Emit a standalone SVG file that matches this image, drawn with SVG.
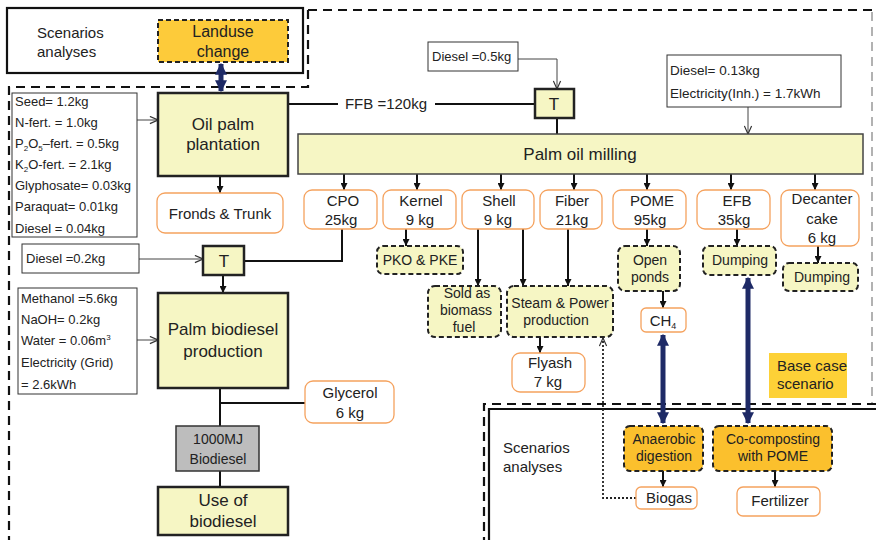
<svg xmlns="http://www.w3.org/2000/svg" width="876" height="540" viewBox="0 0 876 540">
<defs>
<style>
text{font-family:"Liberation Sans",Arial,Helvetica,sans-serif;fill:#222}
.c{text-anchor:middle}
.s12{font-size:13px}
.s14{font-size:14px}
.s15{font-size:15px}
.s16{font-size:16px}
.s17{font-size:17px}
.main{fill:#F6F6C4;stroke:#222;stroke-width:2.5}
.mill{fill:#F6F6C4;stroke:#444;stroke-width:1.5}
.prod{fill:#fff;stroke:#F5A25E;stroke-width:1.3}
.dash{fill:#F6F6C4;stroke:#222;stroke-width:2;stroke-dasharray:5 3}
.gold{fill:#FBC02D;stroke:#222;stroke-width:2;stroke-dasharray:5 3}
.inp{fill:#fff;stroke:#333;stroke-width:1}
.ln{fill:none;stroke:#111;stroke-width:2}
.thin{fill:none;stroke:#444;stroke-width:1}
.bound{fill:none;stroke:#111;stroke-width:2.2;stroke-dasharray:9 6}
.navy{stroke:#1E2A66;stroke-width:5;fill:none}
</style>
<marker id="tri" viewBox="0 0 10 10" refX="10" refY="5" markerWidth="7" markerHeight="7" orient="auto-start-reverse" markerUnits="userSpaceOnUse"><path d="M0,0 L10,5 L0,10 z" fill="#111"/></marker>
<marker id="open" viewBox="0 0 10 10" refX="10" refY="5" markerWidth="9" markerHeight="9" orient="auto-start-reverse" markerUnits="userSpaceOnUse"><path d="M1,1 L10,5 L1,9" fill="none" stroke="#333" stroke-width="1.3"/></marker>
<marker id="nv" viewBox="0 0 10 10" refX="9" refY="5" markerWidth="12" markerHeight="12" orient="auto-start-reverse" markerUnits="userSpaceOnUse"><path d="M0,0 L10,5 L0,10 z" fill="#1E2A66"/></marker>
</defs>
<rect width="876" height="540" fill="#fff"/>

<!-- boundaries -->
<g id="boundaries">
<path class="bound" d="M308,10 L876,10"/>
<path class="bound" d="M308,10 L308,87 L9,87 L9,540"/>
<path d="M872,12 L872,403" fill="none" stroke="#999" stroke-width="1.5" stroke-dasharray="9 6"/>
<path class="bound" d="M876,404 L484,404 L484,540"/>
<rect x="7" y="8" width="296" height="65" fill="none" stroke="#111" stroke-width="2.2"/>
<path d="M489,540 L489,409 L876,409" fill="none" stroke="#111" stroke-width="2.2"/>
<text class="s15" x="37" y="38">Scenarios</text>
<text class="s15" x="37" y="57">analyses</text>
<text class="s15" x="503" y="453">Scenarios</text>
<text class="s15" x="503" y="472">analyses</text>
</g>

<!-- connectors -->
<g id="connectors">
<line class="navy" x1="221" y1="64" x2="221" y2="91" marker-start="url(#nv)" marker-end="url(#nv)"/>
<line class="navy" x1="663" y1="335" x2="663" y2="423" marker-start="url(#nv)" marker-end="url(#nv)"/>
<line class="navy" x1="748" y1="278" x2="748" y2="423" marker-start="url(#nv)" marker-end="url(#nv)"/>
<line class="thin" x1="137" y1="120" x2="158" y2="120" marker-end="url(#open)"/>
<line class="ln" x1="220" y1="176" x2="220" y2="193" marker-end="url(#tri)"/>
<path class="ln" d="M288,104 L338,104 M435,104 L535,104"/>
<path class="thin" d="M518,59 L557,59 L557,89" marker-end="url(#open)"/>
<line class="ln" x1="557" y1="118" x2="557" y2="134"/>
<line class="thin" x1="748" y1="107" x2="748" y2="134" marker-end="url(#open)"/>
<line class="ln" x1="344" y1="174" x2="344" y2="190" marker-end="url(#tri)"/>
<line class="ln" x1="417" y1="174" x2="417" y2="190" marker-end="url(#tri)"/>
<line class="ln" x1="501" y1="174" x2="501" y2="190" marker-end="url(#tri)"/>
<line class="ln" x1="574" y1="174" x2="574" y2="190" marker-end="url(#tri)"/>
<line class="ln" x1="647" y1="174" x2="647" y2="190" marker-end="url(#tri)"/>
<line class="ln" x1="731" y1="174" x2="731" y2="190" marker-end="url(#tri)"/>
<line class="ln" x1="815" y1="174" x2="815" y2="190" marker-end="url(#tri)"/>
<path class="ln" d="M342,229 L342,261 L244,261"/>
<line class="thin" x1="139" y1="259" x2="203" y2="259" marker-end="url(#open)"/>
<line class="ln" x1="223" y1="275" x2="223" y2="293" marker-end="url(#tri)"/>
<line class="thin" x1="137" y1="340" x2="158" y2="340" marker-end="url(#open)"/>
<path class="ln" d="M220,388 L220,426 M220,403 L305,403"/>
<line class="ln" x1="220" y1="471" x2="220" y2="487"/>
<line class="ln" x1="406" y1="229" x2="406" y2="246" marker-end="url(#tri)"/>
<line class="ln" x1="478" y1="229" x2="478" y2="286" marker-end="url(#tri)"/>
<line class="ln" x1="523" y1="229" x2="523" y2="286" marker-end="url(#tri)"/>
<line class="ln" x1="568" y1="229" x2="568" y2="286" marker-end="url(#tri)"/>
<line class="ln" x1="540" y1="337" x2="540" y2="353" marker-end="url(#tri)"/>
<line class="ln" x1="647" y1="229" x2="647" y2="246" marker-end="url(#tri)"/>
<line class="ln" x1="663" y1="291" x2="663" y2="308" marker-end="url(#tri)"/>
<line class="ln" x1="737" y1="229" x2="737" y2="246" marker-end="url(#tri)"/>
<line class="ln" x1="818" y1="246" x2="818" y2="263" marker-end="url(#tri)"/>
<line class="ln" x1="663" y1="471" x2="663" y2="487" marker-end="url(#tri)"/>
<line class="ln" x1="775" y1="471" x2="775" y2="487" marker-end="url(#tri)"/>
<path d="M636,498 L603,498 L603,338" fill="none" stroke="#222" stroke-width="1.8" stroke-dasharray="2 2" marker-end="url(#open)"/>
<text class="s15" x="386" y="109" text-anchor="middle">FFB =120kg</text>
</g>

<!-- nodes -->
<g id="landuse"><rect class="gold" x="158" y="20" width="130" height="42" style="fill:#FDCB3A"/><text class="s16 c" x="223" y="37">Landuse</text><text class="s16 c" x="223" y="57">change</text></g>

<g id="plant-inputs"><rect class="inp" x="12" y="93" width="125" height="144"/>
<text class="s12" x="15" y="106">Seed= 1.2kg</text>
<text class="s12" x="15" y="127">N-fert. = 1.0kg</text>
<text class="s12" x="15" y="148">P<tspan font-size="8" dy="3">2</tspan><tspan dy="-3">O</tspan><tspan font-size="8" dy="3">5</tspan><tspan dy="-3">–fert. = 0.5kg</tspan></text>
<text class="s12" x="15" y="169">K<tspan font-size="8" dy="3">2</tspan><tspan dy="-3">O-fert. = 2.1kg</tspan></text>
<text class="s12" x="15" y="190">Glyphosate= 0.03kg</text>
<text class="s12" x="15" y="211">Paraquat= 0.01kg</text>
<text class="s12" x="15" y="233">Diesel = 0.04kg</text>
</g>

<g id="plantation"><rect class="main" x="158" y="93" width="130" height="83"/><text class="s17 c" x="223" y="130">Oil palm</text><text class="s17 c" x="223" y="150">plantation</text></g>
<g id="fronds"><rect class="prod" x="157" y="193" width="126" height="40" rx="8"/><text class="s15 c" x="220" y="219">Fronds &amp; Trunk</text></g>

<g id="t1"><rect class="main" x="535" y="89" width="39" height="29"/><text class="s17 c" x="554" y="110">T</text></g>
<g id="diesel05"><rect class="inp" x="428" y="42" width="90" height="29"/><text class="s12" x="432" y="61">Diesel =0.5kg</text></g>
<g id="mill-inputs"><rect class="inp" x="667" y="55" width="174" height="52"/><text class="s12" x="670" y="75" style="font-size:13.5px">Diesel= 0.13kg</text><text class="s12" x="670" y="98" style="font-size:13.5px">Electricity(Inh.) = 1.7kWh</text></g>
<g id="milling"><rect class="mill" x="298" y="134" width="565" height="40"/><text class="s17 c" x="580" y="160">Palm oil milling</text></g>

<g id="cpo"><rect class="prod" x="304" y="190" width="73" height="39" rx="8"/><text class="s15 c" x="343" y="206">CPO</text><text class="s15 c" x="341" y="225">25kg</text></g>
<g id="kernel"><rect class="prod" x="383" y="190" width="73" height="39" rx="8"/><text class="s15 c" x="421" y="206">Kernel</text><text class="s15 c" x="420" y="225">9 kg</text></g>
<g id="shell"><rect class="prod" x="462" y="190" width="72" height="39" rx="8"/><text class="s15 c" x="499" y="206">Shell</text><text class="s15 c" x="498" y="225">9 kg</text></g>
<g id="fiber"><rect class="prod" x="540" y="190" width="62" height="39" rx="8"/><text class="s15 c" x="572" y="206">Fiber</text><text class="s15 c" x="572" y="225">21kg</text></g>
<g id="pome"><rect class="prod" x="613" y="190" width="73" height="39" rx="8"/><text class="s15 c" x="652" y="206">POME</text><text class="s15 c" x="650" y="225">95kg</text></g>
<g id="efb"><rect class="prod" x="697" y="190" width="73" height="39" rx="8"/><text class="s15 c" x="737" y="206">EFB</text><text class="s15 c" x="734" y="225">35kg</text></g>
<g id="decanter"><rect class="prod" x="781" y="190" width="78" height="56" rx="8"/><text class="s15 c" x="822" y="204">Decanter</text><text class="s15 c" x="822" y="224">cake</text><text class="s15 c" x="822" y="243">6 kg</text></g>

<g id="t2"><rect class="main" x="203" y="246" width="41" height="29"/><text class="s17 c" x="224" y="267">T</text></g>
<g id="diesel02"><rect class="inp" x="22" y="244" width="117" height="29"/><text class="s12" x="26" y="263">Diesel =0.2kg</text></g>
<g id="bio-inputs"><rect class="inp" x="18" y="288" width="119" height="106"/>
<text class="s12" x="21" y="303">Methanol =5.6kg</text>
<text class="s12" x="21" y="324">NaOH= 0.2kg</text>
<text class="s12" x="21" y="345">Water = 0.06m<tspan font-size="8" dy="-5">3</tspan></text>
<text class="s12" x="21" y="367">Electricity (Grid)</text>
<text class="s12" x="21" y="389">= 2.6kWh</text>
</g>
<g id="biodiesel-prod"><rect class="main" x="158" y="293" width="130" height="95"/><text class="s17 c" x="223" y="335">Palm biodiesel</text><text class="s17 c" x="223" y="357">production</text></g>
<g id="glycerol"><rect class="prod" x="305" y="381" width="89" height="42" rx="8"/><text class="s15 c" x="350" y="398">Glycerol</text><text class="s15 c" x="350" y="418">6 kg</text></g>
<g id="mj"><rect x="176" y="426" width="83" height="45" fill="#BDBDBD" stroke="#333" stroke-width="1.5"/><text class="s14 c" x="218" y="444">1000MJ</text><text class="s14 c" x="218" y="464">Biodiesel</text></g>
<g id="use"><rect class="main" x="158" y="487" width="130" height="48"/><text class="s17 c" x="223" y="506">Use of</text><text class="s17 c" x="223" y="527">biodiesel</text></g>

<g id="pko"><rect class="dash" x="377" y="246" width="86" height="28" rx="6"/><text class="s14 c" x="420" y="265">PKO &amp; PKE</text></g>
<g id="sold"><rect class="dash" x="428" y="286" width="73" height="51" rx="7"/><text class="s14 c" x="467" y="298">Sold as</text><text class="s14 c" x="466" y="315">biomass</text><text class="s14 c" x="464" y="332">fuel</text></g>
<g id="steam"><rect class="dash" x="507" y="286" width="106" height="51" rx="7"/><text class="s14 c" x="560" y="308">Steam &amp; Power</text><text class="s14 c" x="556" y="325">production</text></g>
<g id="flyash"><rect class="prod" x="512" y="353" width="73" height="39" rx="8"/><text class="s15 c" x="550" y="368">Flyash</text><text class="s15 c" x="548" y="387">7 kg</text></g>
<g id="ponds"><rect class="dash" x="618" y="246" width="62" height="45" rx="7"/><text class="s14 c" x="650" y="265">Open</text><text class="s14 c" x="650" y="282">ponds</text></g>
<g id="ch4"><rect class="prod" x="641" y="308" width="45" height="24" rx="5"/><text class="s15 c" x="663" y="326">CH<tspan font-size="9" dy="3">4</tspan></text></g>
<g id="dump1"><rect class="dash" x="703" y="246" width="73" height="29" rx="6"/><text class="s14 c" x="740" y="265">Dumping</text></g>
<g id="dump2"><rect class="dash" x="783" y="263" width="75" height="28" rx="6"/><text class="s14 c" x="822" y="282">Dumping</text></g>
<g id="basecase"><rect x="769" y="353" width="78" height="45" fill="#FDD137"/><text class="s15" x="777" y="371">Base case</text><text class="s15" x="777" y="389">scenario</text></g>
<g id="anaerobic"><rect class="gold" x="624" y="426" width="79" height="45" rx="6"/><text class="s14 c" x="664" y="444">Anaerobic</text><text class="s14 c" x="664" y="461">digestion</text></g>
<g id="cocomp"><rect class="gold" x="713" y="426" width="119" height="45" rx="6"/><text class="s14 c" x="773" y="444">Co-composting</text><text class="s14 c" x="773" y="461">with POME</text></g>
<g id="biogas"><rect class="prod" x="636" y="487" width="61" height="22" rx="5"/><text class="s15 c" x="669" y="503">Biogas</text></g>
<g id="fertilizer"><rect class="prod" x="737" y="487" width="83" height="29" rx="6"/><text class="s15 c" x="780" y="506">Fertilizer</text></g>
</svg>
